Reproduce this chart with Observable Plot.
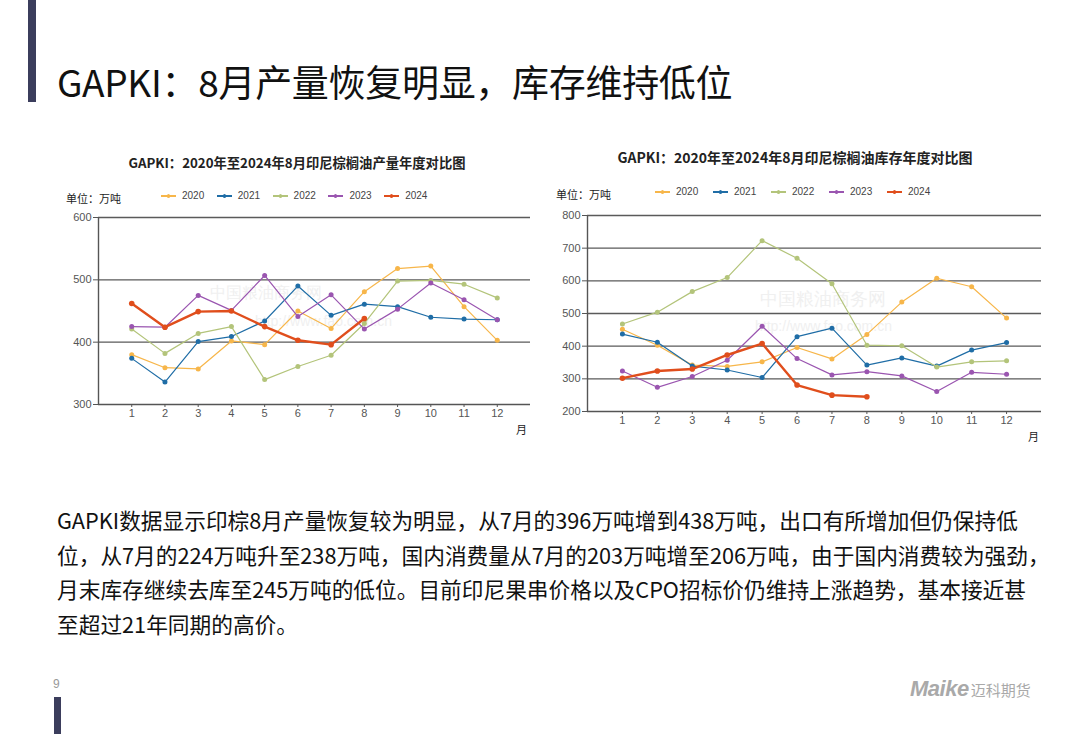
<!DOCTYPE html>
<html>
<head>
<meta charset="utf-8">
<script src="https://cdn.jsdelivr.net/npm/d3@7"></script>
<script src="https://cdn.jsdelivr.net/npm/@observablehq/plot@0.6"></script>
<style>
  html, body { margin: 0; padding: 0; background: #fff; }
  body { width: 1080px; height: 734px; position: relative; overflow: hidden; font-family: "Noto Sans CJK SC", "Noto Sans", sans-serif; }
  .abs { position: absolute; }
  .bar { background: #3b3d5c; }
  .title { left: 57px; top: 54px; font-size: 37px; color: #111; white-space: nowrap; letter-spacing: -0.3px; }
  .para { left: 57px; top: 503px; font-size: 21.7px; line-height: 34.7px; color: #111; white-space: nowrap; }
  .ctitle { font-weight: bold; color: #222; white-space: nowrap; transform: translateX(-50%); }
  .unit { font-size: 11px; color: #222; white-space: nowrap; }
  .legend { font-size: 10px; color: #444; font-family: "Liberation Sans", Arial, sans-serif; }
  .lg-item { position: absolute; display: flex; align-items: center; white-space: nowrap; }
  .sw { position: relative; width: 15px; height: 2px; margin-right: 6px; }
  .sw i { position: absolute; left: 6px; top: -1px; width: 3px; height: 4px; border-radius: 2px; }
  .month { font-size: 11px; color: #222; }
  .wm { color: #f0f0f0; white-space: nowrap; font-family: "Liberation Sans", Arial, sans-serif; }
</style>
</head>
<body>
<div class="abs bar" style="left:28px;top:0;width:8px;height:102px"></div>
<div class="abs title">GAPKI：8月产量恢复明显，库存维持低位</div>

<div class="abs ctitle" style="left:297px;top:153px;font-size:13.3px">GAPKI：2020年至2024年8月印尼棕榈油产量年度对比图</div>
<div class="abs unit" style="left:66px;top:190px">单位：万吨</div>
<div class="abs legend" id="legend1" style="left:0;top:190px"></div>
<div class="abs wm" style="left:210px;top:283px;font-size:16px">中国粮油商务网</div>
<div class="abs wm" style="left:255px;top:313px;font-size:14px">http://www.fao.com.cn</div>
<div class="abs" id="chart1" style="left:50px;top:205px"></div>
<div class="abs month" style="left:516px;top:421px">月</div>

<div class="abs ctitle" style="left:795px;top:147px;font-size:14px">GAPKI：2020年至2024年8月印尼棕榈油库存年度对比图</div>
<div class="abs unit" style="left:556px;top:186px">单位：万吨</div>
<div class="abs legend" id="legend2" style="left:0;top:186px"></div>
<div class="abs wm" style="left:760px;top:287px;font-size:18px">中国粮油商务网</div>
<div class="abs wm" style="left:755px;top:318px;font-size:14px">http://www.fao.com.cn</div>
<div class="abs" id="chart2" style="left:545px;top:205px"></div>
<div class="abs month" style="left:1028px;top:428px">月</div>

<div class="abs para">GAPKI数据显示印棕8月产量恢复较为明显，从7月的396万吨增到438万吨，出口有所增加但仍保持低<br>位，从7月的224万吨升至238万吨，国内消费量从7月的203万吨增至206万吨，由于国内消费较为强劲，<br>月末库存继续去库至245万吨的低位。目前印尼果串价格以及CPO招标价仍维持上涨趋势，基本接近甚<br>至超过21年同期的高价。</div>

<div class="abs" style="left:53px;top:677px;font-size:12px;color:#999;font-family:'Liberation Sans',Arial,sans-serif">9</div>
<div class="abs bar" style="left:54px;top:697px;width:7px;height:37px"></div>
<div class="abs" style="left:910px;top:676px;white-space:nowrap;color:#a9a9a9">
  <span style="font-family:'Liberation Sans',Arial,sans-serif;font-weight:bold;font-style:italic;font-size:22px;letter-spacing:-0.5px">Maike</span><span style="font-size:15px;margin-left:2px">迈科期货</span>
</div>

<script>
// ---- data ----
const months = [1,2,3,4,5,6,7,8,9,10,11,12];
const years = ["2020","2021","2022","2023","2024"];
const colors = ["#f7b64a","#1f6da6","#b3c47a","#9a55b0","#e04e1c"];

const prod2020 = [380,359,357,402,396,450,422,481,518,522,457,403];
const prod2021 = [374,336,401,409,434,490,443,461,457,440,437,436];
const prod2022 = [421,382,414,425,340,361,379,430,498,499,493,471];
const prod2023 = [425,424,475,451,507,441,476,421,453,495,468,436];
const prod2024 = [462,424,449,450,425,403,396,438];

const stock2020 = [452,403,342,338,352,396,361,436,535,608,582,486];
const stock2021 = [437,412,339,327,304,429,455,342,364,339,388,411];
const stock2022 = [468,504,567,610,723,669,591,403,401,336,352,355];
const stock2023 = [324,274,307,357,461,362,312,322,309,261,320,314];
const stock2024 = [302,324,330,373,408,281,250,245];

const prodTicks = [300,400,500,600];
const stockTicks = [200,300,400,500,600,700,800];

function tidy(series) {
  const rows = [];
  series.forEach((vals, i) => vals.forEach((v, j) => rows.push({year: years[i], month: months[j], value: v})));
  return rows;
}
const prodData = tidy([prod2020, prod2021, prod2022, prod2023, prod2024]);
const stockData = tidy([stock2020, stock2021, stock2022, stock2023, stock2024]);

function makeChart(data, ticks, opts) {
  const yMin = ticks[0], yMax = ticks[ticks.length - 1];
  const marks = [
    Plot.ruleY(ticks.slice(1), {stroke: "#5a5a5a", strokeWidth: 1.4}),
    Plot.ruleY([yMin], {stroke: "#555", strokeWidth: 1.4}),
    Plot.ruleX([0], {stroke: "#555", strokeWidth: 1.4}),
    Plot.axisX({ticks: months, tickSize: 3, tickPadding: 2, fontSize: 11, color: "#555", tickFormat: d => d, label: null}),
    Plot.axisY({ticks: ticks, tickSize: 5, tickPadding: 2, fontSize: 11, color: "#555", tickFormat: d => d, label: null})
  ];
  years.forEach((yr, i) => {
    const rows = data.filter(d => d.year === yr);
    const w = yr === "2024" ? 2.4 : 1.2;
    marks.push(Plot.line(rows, {x: "month", y: "value", stroke: colors[i], strokeWidth: w}));
    marks.push(Plot.dot(rows, {x: "month", y: "value", fill: colors[i], r: yr === "2024" ? 2.8 : 2.5}));
  });
  return Plot.plot({
    width: opts.width, height: opts.height,
    marginLeft: opts.ml, marginRight: opts.mr, marginTop: opts.mt, marginBottom: opts.mb,
    style: {fontFamily: "'Liberation Sans', Arial, sans-serif", background: "transparent", overflow: "visible"},
    x: {domain: [0, 13], axis: null, label: null},
    y: {domain: [yMin, yMax], axis: null, label: null},
    marks
  });
}

document.getElementById("chart1").appendChild(
  makeChart(prodData, prodTicks, {width: 490, height: 235, ml: 48, mr: 10, mt: 12, mb: 36}));
document.getElementById("chart2").appendChild(
  makeChart(stockData, stockTicks, {width: 500, height: 240, ml: 42, mr: 4, mt: 10, mb: 34}));

function legend(el, x0, step) {
  years.forEach((yr, i) => {
    const item = document.createElement("div");
    item.className = "lg-item";
    item.style.left = (x0 + i * step) + "px";
    item.style.top = "0px";
    item.innerHTML = `<span class="sw" style="background:${colors[i]}"><i style="background:${colors[i]}"></i></span><span>${yr}</span>`;
    el.appendChild(item);
  });
}
legend(document.getElementById("legend1"), 161, 55.8);
legend(document.getElementById("legend2"), 655, 58);
</script>
</body>
</html>
